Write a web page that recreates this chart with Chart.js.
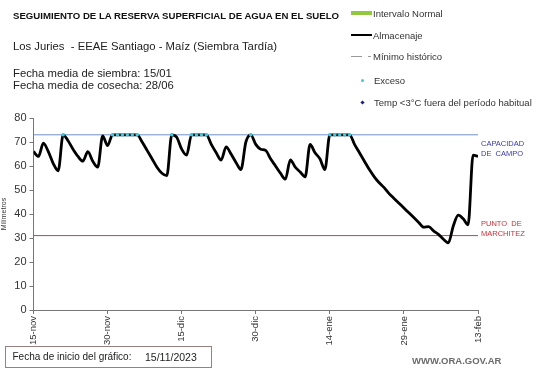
<!DOCTYPE html>
<html>
<head>
<meta charset="utf-8">
<script src="https://cdn.jsdelivr.net/npm/chart.js@4/dist/chart.umd.min.js"></script>
<style>
  body { margin: 0; background: #fff; font-family: "Liberation Sans", Arial, sans-serif; }
  #wrap { position: relative; width: 541px; height: 368px; overflow: hidden; }
  #grafico { position: absolute; left: 0; top: 0; }
  .txt { position: absolute; white-space: nowrap; color: #222; }
  .ley { position: absolute; white-space: nowrap; font-size: 9.5px; line-height: 11px; color: #333; }
</style>
</head>
<body>
<div id="wrap">
  <canvas id="grafico" width="541" height="368"></canvas>

  <div class="txt" style="left:13px; top:10px; font-size:9.65px; font-weight:bold; color:#111;">SEGUIMIENTO DE LA RESERVA SUPERFICIAL DE AGUA EN EL SUELO</div>
  <div class="txt" style="left:13px; top:40px; font-size:11.3px;">Los Juries&nbsp; - EEAE Santiago - Maíz (Siembra Tardía)</div>
  <div class="txt" style="left:13px; top:67px; font-size:11.3px; line-height:12px;">Fecha media de siembra: 15/01<br>Fecha media de cosecha: 28/06</div>

  <!-- leyenda -->
  <div style="position:absolute; left:351px; top:11px; width:21px; height:4px; background:#92c83e;"></div>
  <div class="ley" style="left:373px; top:7.5px;">Intervalo Normal</div>
  <div style="position:absolute; left:351px; top:34px; width:21px; height:2px; background:#000;"></div>
  <div class="ley" style="left:373px; top:29.5px;">Almacenaje</div>
  <div style="position:absolute; left:351px; top:56px; width:11px; height:1px; background:#999;"></div>
  <div style="position:absolute; left:368px; top:56px; width:3px; height:1px; background:#999;"></div>
  <div class="ley" style="left:373px; top:50.5px;">Mínimo histórico</div>
  <div style="position:absolute; left:361px; top:79px; width:3px; height:3px; background:#3cc8dc; border-radius:50%;"></div>
  <div class="ley" style="left:374px; top:74.5px;">Exceso</div>
  <div style="position:absolute; left:361px; top:101px; width:3px; height:3px; background:#1a1a8c; transform:rotate(45deg);"></div>
  <div class="ley" style="left:374px; top:96.5px;">Temp &lt;3°C fuera del período habitual</div>

  <!-- rotulos de las lineas de referencia -->
  <div class="txt" style="left:481px; top:139px; font-size:7.5px; line-height:10px; color:#3a3aa8;">CAPACIDAD<br>DE&nbsp; CAMPO</div>
  <div class="txt" style="left:481px; top:219px; font-size:7.5px; line-height:10px; color:#c8323c;">PUNTO&nbsp; DE<br>MARCHITEZ</div>

  <div style="position:absolute; left:5px; top:346px; width:205px; height:20px; border:1px solid #9a7f7f;"></div>
  <div class="txt" style="left:12.5px; top:351px; font-size:10px;">Fecha de inicio del gráfico:</div>
  <div class="txt" style="left:145px; top:351px; font-size:10.5px;">15/11/2023</div>
  <div class="txt" style="left:412px; top:355px; font-size:9.5px; font-weight:bold; color:#6b6b6b;">WWW.ORA.GOV.AR</div>
</div>

<script>
// etiquetas del eje x (cada 15 dias desde el 15/11/2023)
var fechasEje = ["15-nov", "30-nov", "15-dic", "30-dic", "14-ene", "29-ene", "13-feb"];

// almacenaje diario (mm), dia 0 = 15-nov
var almacenaje = [
    66, 64, 69.5, 66, 61, 58, 73, 70.5, 67, 64,
    62, 66, 62, 59.5, 72.5, 68.5, 73, 73, 73, 73,
    73, 73, 70, 66.5, 63, 59.5, 57, 56, 73, 72,
    67, 64.5, 73, 73, 73, 73, 69, 65.5, 62.5, 68,
    65, 61.5, 58.5, 70, 73, 69, 67, 66.5, 63, 60,
    57, 54.5, 62.5, 59.5, 57.5, 55.5, 69, 65.5, 63, 58.5,
    73, 73, 73, 73, 73, 69, 65.5, 62, 58.5, 55.5,
    53, 51, 48.5, 46.5, 44.5, 42.5, 40.5, 38.5, 36.5, 34.5,
    34.7, 33, 31.5, 29.5, 28, 35, 39.5, 38, 35.5, 64.5,
    64
];

// dias con exceso (almacenaje en capacidad de campo)
var diasExceso = [6, 16, 17, 18, 19, 20, 21, 28, 32, 33, 34, 35, 44, 60, 61, 62, 63, 64];

var capacidadCampo = 73;
var puntoMarchitez = 31;
var ultimoDia = 90;

var puntosAlmacenaje = almacenaje.map(function (v, i) { return { x: i, y: v }; });
var puntosExceso = diasExceso.map(function (d) { return { x: d, y: capacidadCampo }; });

var ctx = document.getElementById('grafico').getContext('2d');
new Chart(ctx, {
    type: 'line',
    data: {
        datasets: [{
            label: 'Exceso',
            data: puntosExceso,
            showLine: false,
            pointRadius: 1.8,
            pointBackgroundColor: '#3cc8dc',
            pointBorderWidth: 0,
            order: 0
        }, {
            label: 'Almacenaje',
            data: puntosAlmacenaje,
            borderColor: '#000',
            borderWidth: 2.8,
            pointRadius: 0,
            cubicInterpolationMode: 'monotone',
            order: 1
        }, {
            label: 'Capacidad de campo',
            data: [{ x: 0, y: capacidadCampo }, { x: ultimoDia, y: capacidadCampo }],
            borderColor: '#6f8fd2',
            borderWidth: 1,
            pointRadius: 0,
            order: 2
        }, {
            label: 'Punto de marchitez',
            data: [{ x: 0, y: puntoMarchitez }, { x: ultimoDia, y: puntoMarchitez }],
            borderColor: '#b24848',
            borderWidth: 1,
            pointRadius: 0,
            order: 2
        }]
    },
    options: {
        responsive: false,
        animation: false,
        layout: { padding: { left: 0, right: 63, top: 118, bottom: 18 } },
        plugins: { legend: { display: false }, tooltip: { enabled: false } },
        scales: {
            x: {
                type: 'linear',
                min: 0,
                max: ultimoDia,
                afterFit: function (scale) { scale.height = 40; },
                ticks: {
                    stepSize: 15,
                    includeBounds: false,
                    autoSkip: false,
                    minRotation: 90,
                    maxRotation: 90,
                    padding: 2,
                    color: '#333',
                    font: { family: 'Liberation Sans', size: 9.5 },
                    callback: function (value) { return fechasEje[value / 15]; }
                },
                grid: { display: true, drawOnChartArea: false, drawTicks: true, tickLength: 4, color: '#777' },
                border: { display: true, color: '#777', width: 1 }
            },
            y: {
                min: 0,
                max: 80,
                afterFit: function (scale) { scale.width = 33.5; },
                ticks: {
                    stepSize: 10,
                    padding: 3,
                    color: '#333',
                    font: { family: 'Liberation Sans', size: 11 }
                },
                title: {
                    display: true,
                    text: 'Milímetros',
                    color: '#333',
                    padding: 0,
                    font: { family: 'Liberation Sans', size: 7 }
                },
                grid: { display: true, drawOnChartArea: false, drawTicks: true, tickLength: 4, color: '#777' },
                border: { display: true, color: '#777', width: 1 }
            }
        }
    }
});
</script>
</body>
</html>
